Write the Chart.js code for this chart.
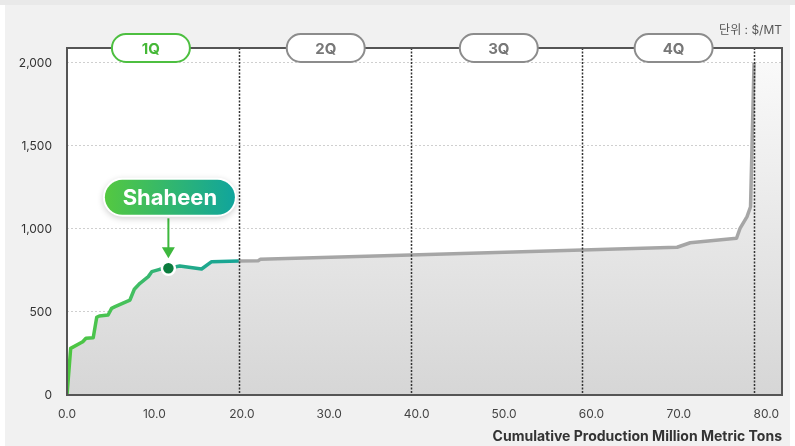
<!DOCTYPE html>
<html>
<head>
<meta charset="utf-8">
<script src="https://cdn.jsdelivr.net/npm/chart.js@4"></script>
<style>
  html, body { margin: 0; padding: 0; background: #fff; }
  #wrap { position: relative; width: 795px; height: 446px; overflow: hidden; }
  #strip { position: absolute; left: 0; top: 0; width: 795px; height: 5px; background: #e9e9e9; }
  #panel { position: absolute; left: 5px; top: 5px; width: 785px; height: 441px; background: #f1f1f1; }
  canvas { position: absolute; left: 0; top: 0; }
</style>
</head>
<body>
<div id="wrap">
  <div id="strip"></div>
  <div id="panel"></div>
  <canvas id="chart" width="795" height="446"></canvas>
</div>
<script>
// Cost curve — cumulative production vs cash cost, split into quartiles.
const xMax = 81.8;
const yMax = 2090;
const xTicks = [0, 10, 20, 30, 40, 50, 60, 70, 80];
const yTicks = [0, 500, 1000, 1500, 2000];

// cumulative production (Mt) and cost ($/MT) along the curve
const prodX = [0, 0.42, 1.8, 2.17, 3.0, 3.4, 3.7, 4.7, 5.1, 5.5, 7.2, 7.7, 8.35, 9.3, 9.7, 10.6, 11.6,
  12.9, 15.4, 16.55, 19.65, 21.9, 22.1, 39.3, 58.95, 69.8, 71.3, 76.6, 77.0, 77.8, 78.2, 78.6];
const costY = [0, 281, 321, 342, 345, 468, 476, 482, 522, 532, 572, 637, 673, 713, 743, 757, 763,
  777, 759, 803, 807, 809, 817, 843, 873, 890, 917, 944, 1004, 1074, 1134, 2000];

// fill beyond the last producer
const tailX = [78.6, 81.8];
const tailY = [2000, 2000];

// highlighted producer
const markLabel = 'Shaheen';
const markX = [11.6];
const markY = [763];

// quartile boundaries and labels
const quarterX = [19.65, 39.3, 58.95, 78.6];
const quarterLabelX = [9.6, 29.6, 49.4, 69.4];
const quarterLabels = ['1Q', '2Q', '3Q', '4Q'];

const FONT = 'Inter, "Noto Sans CJK KR", sans-serif';
const toPts = (xs, ys) => xs.map((x, i) => ({ x, y: ys[i] }));

function areaFill(ctx) {
  const { chart } = ctx;
  const a = chart.chartArea;
  if (!a) return '#e0e0e0';
  const g = chart.ctx.createLinearGradient(0, a.top, 0, a.bottom);
  g.addColorStop(0, '#fbfbfb');
  g.addColorStop(1, '#d6d6d6');
  return g;
}

function lineStroke(ctx) {
  const { chart } = ctx;
  const a = chart.chartArea;
  if (!a) return '#a6a6a6';
  const xs = chart.scales.x;
  const f = (v) => (xs.getPixelForValue(v) - a.left) / (a.right - a.left);
  const g = chart.ctx.createLinearGradient(a.left, 0, a.right, 0);
  g.addColorStop(0, '#4ec640');
  g.addColorStop(f(7), '#46c15c');
  g.addColorStop(f(12), '#26ab85');
  g.addColorStop(f(quarterX[0]) - 0.0005, '#16a596');
  g.addColorStop(f(quarterX[0]), '#a6a6a6');
  g.addColorStop(1, '#a6a6a6');
  return g;
}

function roundRect(c, x, y, w, h, r) {
  c.beginPath();
  c.moveTo(x + r, y);
  c.arcTo(x + w, y, x + w, y + h, r);
  c.arcTo(x + w, y + h, x, y + h, r);
  c.arcTo(x, y + h, x, y, r);
  c.arcTo(x, y, x + w, y, r);
  c.closePath();
}

const plotBg = {
  id: 'plotBg',
  beforeDraw(chart) {
    const { ctx, chartArea: a } = chart;
    ctx.save();
    ctx.fillStyle = '#fff';
    ctx.fillRect(a.left, a.top, a.right - a.left, a.bottom - a.top);
    ctx.restore();
  },
};

const overlay = {
  id: 'overlay',
  afterDatasetsDraw(chart) {
    const { ctx, chartArea: a, scales } = chart;
    ctx.save();

    // quartile dividers
    ctx.strokeStyle = '#333';
    ctx.lineWidth = 1.5;
    ctx.setLineDash([2, 1.5]);
    quarterX.forEach((q) => {
      const px = Math.round(scales.x.getPixelForValue(q)) + 0.5;
      ctx.beginPath();
      ctx.moveTo(px, a.top);
      ctx.lineTo(px, a.bottom);
      ctx.stroke();
    });
    ctx.setLineDash([]);

    // frame
    ctx.strokeStyle = '#555';
    ctx.lineWidth = 2;
    ctx.strokeRect(a.left, a.top, a.right - a.left, a.bottom - a.top);

    // quartile pills
    quarterLabels.forEach((lab, i) => {
      const cx = scales.x.getPixelForValue(quarterLabelX[i]);
      const w = 78, h = 28;
      const first = i === 0;
      roundRect(ctx, cx - w / 2, a.top - h / 2, w, h, h / 2);
      ctx.fillStyle = '#fff';
      ctx.fill();
      ctx.lineWidth = 2;
      ctx.strokeStyle = first ? '#4dbf40' : '#8c8c8c';
      ctx.stroke();
      ctx.fillStyle = first ? '#45b837' : '#777';
      ctx.font = `bold 15px ${FONT}`;
      ctx.textAlign = 'center';
      ctx.textBaseline = 'middle';
      ctx.fillText(lab, cx, a.top + 1);
    });

    // unit
    ctx.fillStyle = '#555';
    ctx.font = `12px ${FONT}`;
    ctx.textAlign = 'right';
    ctx.textBaseline = 'middle';
    ctx.fillText('단위 : $/MT', a.right, 30);

    // callout for the highlighted producer
    const pt = chart.getDatasetMeta(0).data[0];
    if (pt) {
      const px = pt.x, py = pt.y;
      ctx.strokeStyle = '#3db83d';
      ctx.fillStyle = '#3db83d';
      ctx.lineWidth = 2;
      ctx.beginPath();
      ctx.moveTo(px, py - 50);
      ctx.lineTo(px, py - 20);
      ctx.stroke();
      ctx.beginPath();
      ctx.moveTo(px - 6.5, py - 21);
      ctx.lineTo(px + 6.5, py - 21);
      ctx.lineTo(px, py - 10);
      ctx.closePath();
      ctx.fill();

      const w = 134, h = 39, cx = px + 1.5, cy = py - 71;
      const g = ctx.createLinearGradient(cx - w / 2, 0, cx + w / 2, 0);
      g.addColorStop(0, '#55c93f');
      g.addColorStop(1, '#0fa49e');
      ctx.save();
      ctx.shadowColor = 'rgba(0,0,0,0.18)';
      ctx.shadowBlur = 6;
      ctx.shadowOffsetY = 2;
      roundRect(ctx, cx - w / 2, cy - h / 2, w, h, h / 2);
      ctx.fillStyle = '#fff';
      ctx.fill();
      ctx.restore();
      roundRect(ctx, cx - w / 2 + 2, cy - h / 2 + 2, w - 4, h - 4, (h - 4) / 2);
      ctx.fillStyle = g;
      ctx.fill();
      ctx.fillStyle = '#fff';
      ctx.font = `bold 22px ${FONT}`;
      ctx.textAlign = 'center';
      ctx.textBaseline = 'middle';
      ctx.fillText(markLabel, cx, cy + 1);
    }
    ctx.restore();
  },
};

new Chart(document.getElementById('chart'), {
  type: 'scatter',
  data: {
    datasets: [
      {
        label: markLabel,
        data: toPts(markX, markY),
        pointRadius: 6.5,
        pointBackgroundColor: '#0b7c3e',
        pointBorderColor: '#fff',
        pointBorderWidth: 2.5,
        showLine: false,
      },
      {
        label: 'Cost curve',
        data: toPts(prodX, costY),
        showLine: true,
        pointRadius: 0,
        borderWidth: 3.5,
        borderJoinStyle: 'round',
        borderColor: lineStroke,
        backgroundColor: areaFill,
        fill: 'origin',
        tension: 0,
      },
      {
        label: 'tail',
        data: toPts(tailX, tailY),
        showLine: true,
        pointRadius: 0,
        borderWidth: 0,
        borderColor: 'transparent',
        backgroundColor: areaFill,
        fill: 'origin',
      },
    ],
  },
  options: {
    responsive: false,
    animation: false,
    events: [],
    layout: { padding: { top: 48, right: 13, left: 0, bottom: 0 } },
    plugins: { legend: { display: false }, tooltip: { enabled: false } },
    scales: {
      x: {
        type: 'linear',
        min: 0,
        max: xMax,
        grid: { display: false, drawTicks: false },
        border: { display: false },
        ticks: {
          padding: 12,
          color: '#444',
          font: { family: FONT, size: 12 },
          callback: (v) => v.toFixed(1),
        },
        afterBuildTicks: (s) => { s.ticks = xTicks.map((v) => ({ value: v })); },
        title: {
          display: true,
          text: 'Cumulative Production Million Metric Tons',
          align: 'end',
          color: '#333',
          font: { family: FONT, size: 14, weight: 'bold' },
          padding: { top: 0, bottom: 1 },
        },
        afterFit: (s) => { s.height = 51; },
      },
      y: {
        min: 0,
        max: yMax,
        grid: { color: '#cfcfcf', lineWidth: 1, drawTicks: false },
        border: { display: false, dash: [2, 2] },
        ticks: {
          padding: 15,
          color: '#333',
          font: { family: FONT, size: 12 },
          callback: (v) => v.toLocaleString('en-US'),
        },
        afterBuildTicks: (s) => { s.ticks = yTicks.map((v) => ({ value: v })); },
        afterFit: (s) => { s.width = 67; },
      },
    },
  },
  plugins: [plotBg, overlay],
});
</script>
</body>
</html>
